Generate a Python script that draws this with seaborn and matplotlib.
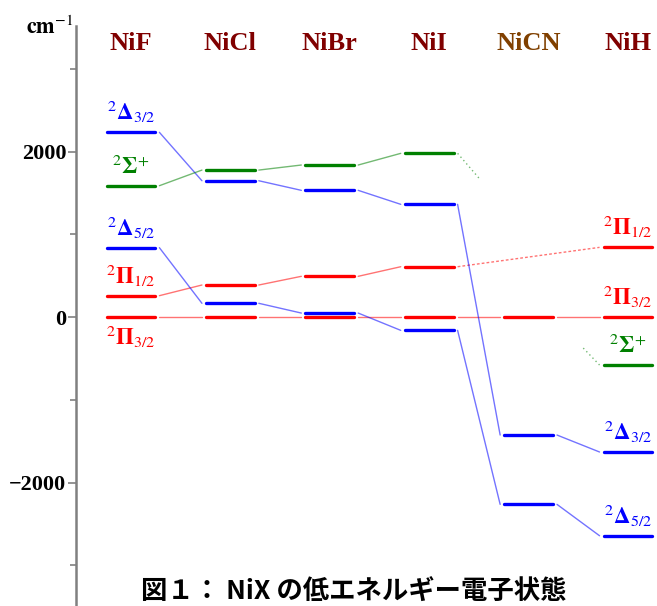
import numpy as np
import pandas as pd
import matplotlib.pyplot as plt
import matplotlib.transforms as mtransforms
import seaborn as sns

sns.set_style('white')
plt.rcParams['font.family'] = ['Liberation Serif', 'DejaVu Sans']
plt.rcParams['mathtext.fontset'] = 'stix'
plt.rcParams['axes.unicode_minus'] = True
plt.rcParams['text.color'] = 'black'
plt.rcParams['ytick.color'] = 'black'

# Molecules (columns)
molecules = ["NiF", "NiCl", "NiBr", "NiI", "NiCN", "NiH"]
mol_colors = ["#800000", "#800000", "#800000", "#800000", "#804000", "#800000"]

# Term energies in cm^-1 (nan = not observed)
E_pi32 = [0, 0, 0, 0, 0, 0]
E_pi12 = [258, 387, 492, 608, np.nan, 842]
E_delta52 = [838, 166, 48, -161, -2264, -2643]
E_delta32 = [2232, 1647, 1531, 1362, -1426, -1631]
E_sigma = [1587, 1776, 1837, 1978, np.nan, -580]
# where the dotted Sigma+ guide stubs around NiCN end / start
sigma_stub_E = [1680, -375]

states = ["pi32", "pi12", "delta52", "delta32", "sigma"]
energies = {"pi32": E_pi32, "pi12": E_pi12, "delta52": E_delta52,
            "delta32": E_delta32, "sigma": E_sigma}
state_colors = {"pi32": "#ff0000", "pi12": "#ff0000", "delta52": "#0000ff",
                "delta32": "#0000ff", "sigma": "#008000"}
state_labels = {"pi32": r"$^{2}\mathbf{\Pi}_{3/2}$", "pi12": r"$^{2}\mathbf{\Pi}_{1/2}$",
                "delta52": r"$^{2}\mathbf{\Delta}_{5/2}$", "delta32": r"$^{2}\mathbf{\Delta}_{3/2}$",
                "sigma": r"$^{2}\mathbf{\Sigma}^{+}$"}

hw = 0.246   # half width of a level bar
gap = 0.04   # gap between bar and connector

# level bars
rows = []
for s in states:
    for i, e in enumerate(energies[s]):
        if np.isnan(e):
            continue
        rows.append({"x": i - hw, "E": e, "state": s, "seg": f"{s}{i}"})
        rows.append({"x": i + hw, "E": e, "state": s, "seg": f"{s}{i}"})
levels = pd.DataFrame(rows)

# connectors
rows = []
k = 0
for s in states:
    e = energies[s]
    idx = [i for i in range(len(e)) if not np.isnan(e[i])]
    for a, b in zip(idx[:-1], idx[1:]):
        x0, x1 = a + hw + gap, b - hw - gap
        if b - a == 1:
            rows += [{"x": x0, "E": e[a], "state": s, "seg": k, "ls": "solid"},
                     {"x": x1, "E": e[b], "state": s, "seg": k, "ls": "solid"}]
        elif s == "sigma":
            rows += [{"x": x0, "E": e[a], "state": s, "seg": k, "ls": "dotted"},
                     {"x": a + 0.5, "E": sigma_stub_E[0], "state": s, "seg": k, "ls": "dotted"}]
            k += 1
            rows += [{"x": b - 0.45, "E": sigma_stub_E[1], "state": s, "seg": k, "ls": "dotted"},
                     {"x": x1, "E": e[b], "state": s, "seg": k, "ls": "dotted"}]
        else:
            rows += [{"x": x0, "E": e[a], "state": s, "seg": k, "ls": "dashed"},
                     {"x": x1, "E": e[b], "state": s, "seg": k, "ls": "dashed"}]
        k += 1
links = pd.DataFrame(rows)

fig = plt.figure(figsize=(6.57, 6.06), dpi=100)
ax = fig.add_axes([76 / 657, 0, 581 / 657, 580 / 606])

sns.lineplot(data=links, x="x", y="E", hue="state", units="seg", style="ls",
             dashes={"solid": "", "dashed": (2, 1.5), "dotted": (1, 2.2)},
             estimator=None, sort=False, palette=state_colors, lw=1.0, alpha=0.55,
             legend=False, ax=ax)
sns.lineplot(data=levels, x="x", y="E", hue="state", units="seg",
             estimator=None, sort=False, palette=state_colors, lw=2.4,
             legend=False, ax=ax)

# level labels on NiF (left) and NiH (right)
for s in states:
    for i in (0, len(molecules) - 1):
        e = energies[s][i]
        below = (s == "pi32" and i == 0)
        ax.annotate(state_labels[s], xy=(i, e), xytext=(0, -5 if below else 5),
                    textcoords="offset points", ha="center",
                    va="top" if below else "bottom",
                    color=state_colors[s], fontsize=16.5)

# molecule names
trans = mtransforms.blended_transform_factory(ax.transData, fig.transFigure)
for i, (m, c) in enumerate(zip(molecules, mol_colors)):
    ax.text(i, 1 - 44 / 606, m, transform=trans, ha="center", va="center",
            fontsize=19, fontweight="bold", color=c)

ax.set_xlim(-0.553, 5.292)
ax.set_ylim(-3492, 3517)
ax.set_xticks([])
ax.set_xlabel("")
ax.set_ylabel("")
ax.set_yticks([-2000, 0, 2000])
ax.set_yticks([-3000, -1000, 1000, 3000], minor=True)
ax.set_yticklabels(["\u22122000", "0", "2000"], fontsize=16, fontweight="bold", color="black")
ax.tick_params(axis="y", which="major", left=True, length=6, width=1.2, color="#808080", pad=1)
ax.tick_params(axis="y", which="minor", left=True, length=4.5, width=1.2, color="#808080")
for sp in ["top", "right", "bottom"]:
    ax.spines[sp].set_visible(False)
ax.spines["left"].set_color("#808080")
ax.spines["left"].set_linewidth(1.8)
ax.patch.set_alpha(0)

fig.text(74 / 657, 1 - 34 / 606, r"$\mathbf{cm}^{-1}$", ha="right", va="baseline",
         fontsize=16, color="black")

fig.text(354 / 657, 1 - 592 / 606, "図１： NiX の低エネルギー電子状態", ha="center", va="center",
         fontsize=19, fontweight="bold", color="black",
         family=["Noto Sans CJK JP", "DejaVu Sans"])

fig.savefig("out.png", dpi=100)
